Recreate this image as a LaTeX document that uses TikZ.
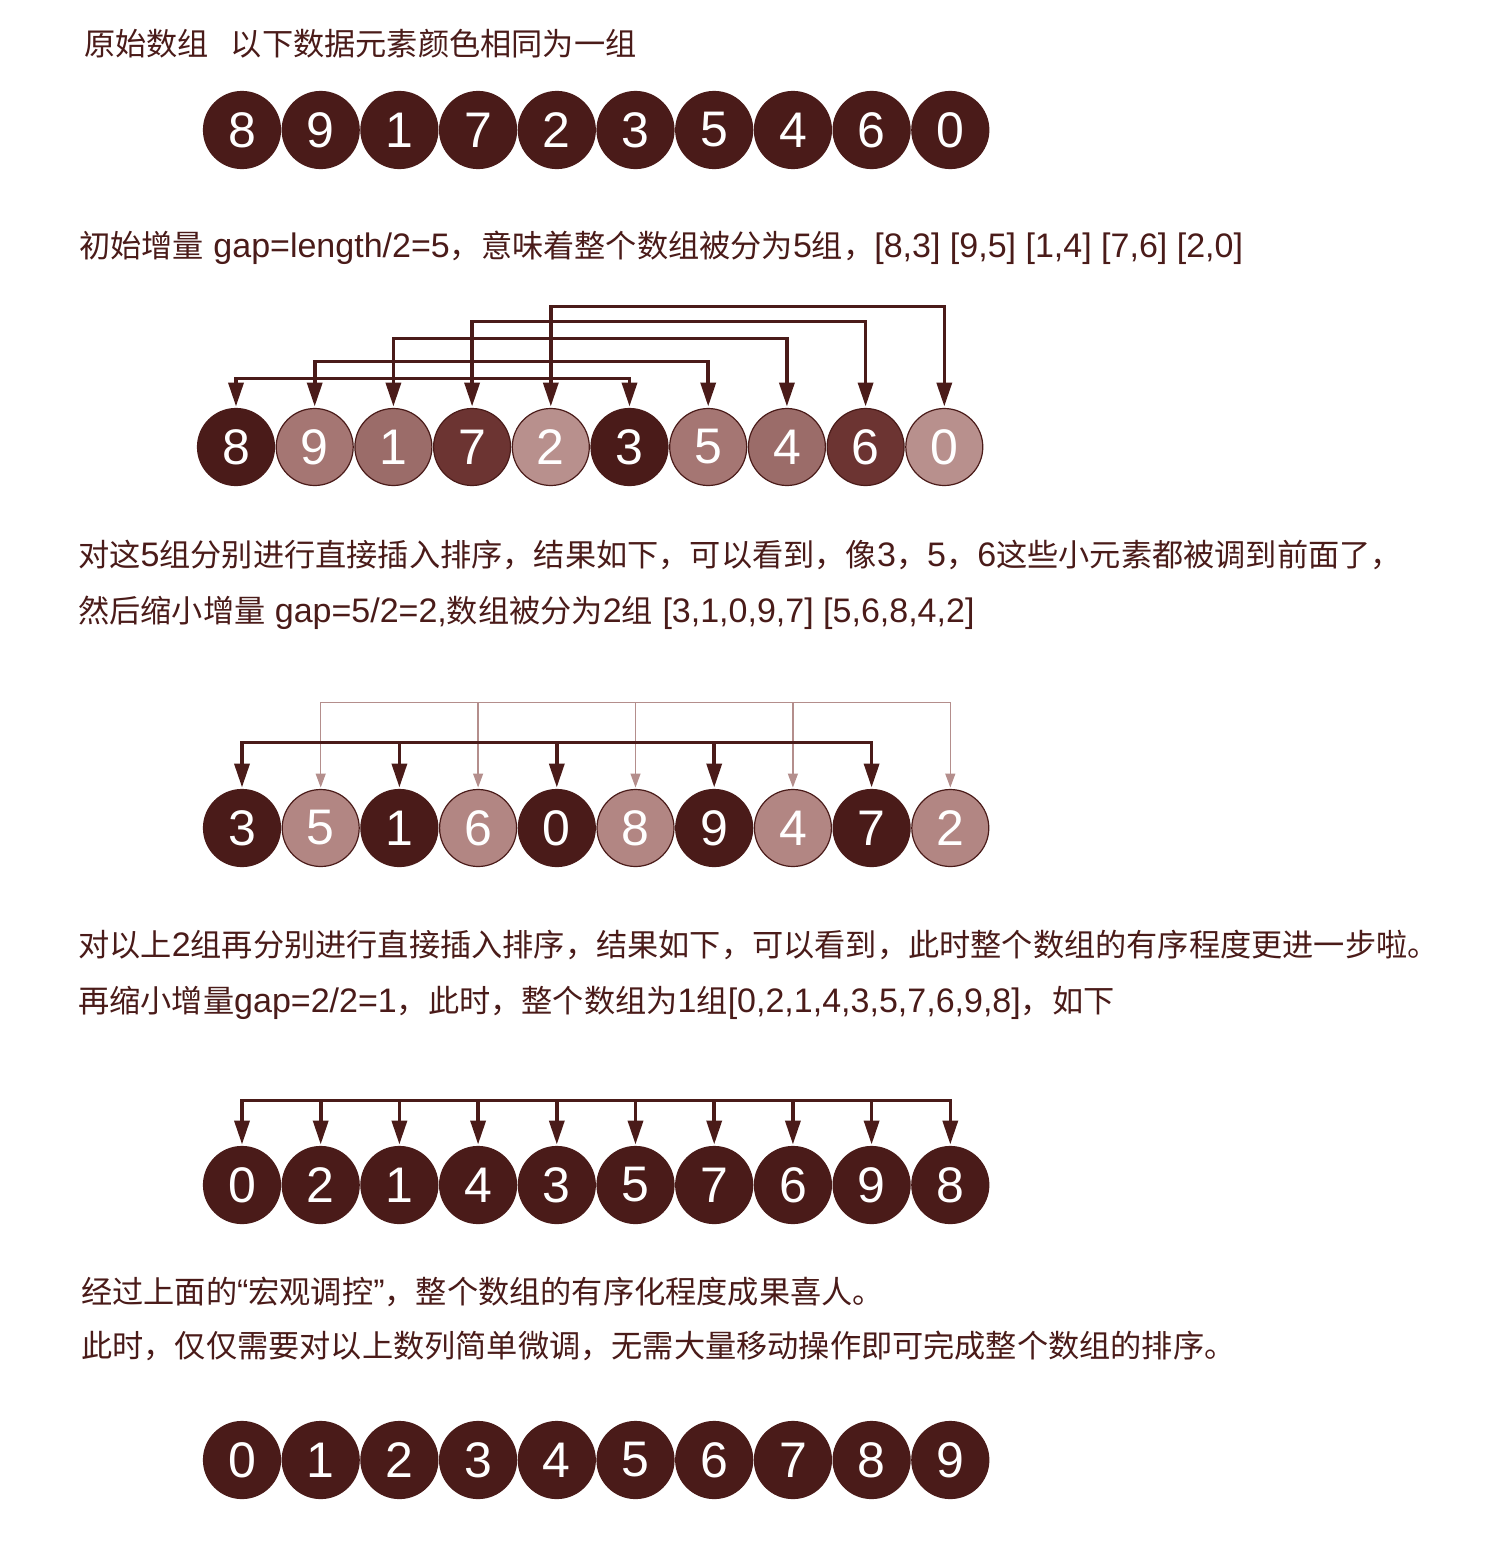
\documentclass[tikz,border=0pt]{standalone}
\usepackage{fontspec}
\setmainfont{Noto Sans CJK SC}
\newfontfamily\digitfont{Liberation Sans}
\newfontfamily\latinfont[Scale=1.09]{Liberation Sans}
\newcommand\lat[1]{{\latinfont #1}}
\usetikzlibrary{arrows.meta, positioning}

\definecolor{arraybrown}{RGB}{74,27,25}
\definecolor{grouptwo}{RGB}{165,118,115}
\definecolor{groupthree}{RGB}{155,108,105}
\definecolor{groupfour}{RGB}{108,52,50}
\definecolor{groupfive}{RGB}{184,144,141}
\definecolor{lightgroup}{RGB}{178,134,131}
\definecolor{lightline}{RGB}{180,142,140}

\begin{document}
\begin{tikzpicture}[
x=1pt, y=-1pt,
node distance=1.7pt,
elem/.style={circle, draw=arraybrown, fill=arraybrown, line width=1.2pt, minimum size=77pt, inner sep=0pt, outer sep=0pt, text=white, font=\digitfont\fontsize{50}{50}\selectfont},
caption/.style={anchor=base west, inner sep=0pt, text=arraybrown, font=\fontsize{31.2}{37}\selectfont},
line/.style={{Triangle[length=24pt, width=15pt]}-{Triangle[length=24pt, width=15pt]}, line width=3.6pt, draw=arraybrown},
tip/.style={-{Triangle[length=24pt, width=15pt]}, line width=3.6pt, draw=arraybrown},
thinline/.style={{Triangle[length=14pt, width=10pt]}-{Triangle[length=14pt, width=10pt]}, line width=1.3pt, draw=lightline},
thintip/.style={-{Triangle[length=14pt, width=10pt]}, line width=1.3pt, draw=lightline}
]
\fill[white] (0,0) rectangle (1494,1558);
\useasboundingbox (0,0) rectangle (1494,1558);

% original array
\node[caption] (title) at (84,55) {原始数组\hspace{22pt}以下数据元素颜色相同为一组};
\node[elem] (a0) at (242,130) {8};
\node[elem, right=of a0] (a1) {9};
\node[elem, right=of a1] (a2) {1};
\node[elem, right=of a2] (a3) {7};
\node[elem, right=of a3] (a4) {2};
\node[elem, right=of a4] (a5) {3};
\node[elem, right=of a5] (a6) {5};
\node[elem, right=of a6] (a7) {4};
\node[elem, right=of a7] (a8) {6};
\node[elem, right=of a8] (a9) {0};

% gap = 5
\node[caption] (step1) at (79,257) {初始增量\lat{ gap=length/2=5}，意味着整个数组被分为\lat{5}组，\lat{[8,3] [9,5] [1,4] [7,6] [2,0]}};
\node[elem] (b0) at (236,447) {8};
\node[elem, fill=grouptwo, right=of b0] (b1) {9};
\node[elem, fill=groupthree, right=of b1] (b2) {1};
\node[elem, fill=groupfour, right=of b2] (b3) {7};
\node[elem, fill=groupfive, right=of b3] (b4) {2};
\node[elem, right=of b4] (b5) {3};
\node[elem, fill=grouptwo, right=of b5] (b6) {5};
\node[elem, fill=groupthree, right=of b6] (b7) {4};
\node[elem, fill=groupfour, right=of b7] (b8) {6};
\node[elem, fill=groupfive, right=of b8] (b9) {0};

\draw[line] ([yshift=2pt]b0.north) |- ([yshift=30pt]b5.north) -- ([yshift=2pt]b5.north);
\draw[line] ([yshift=2pt]b1.north) |- ([yshift=47pt]b6.north) -- ([yshift=2pt]b6.north);
\draw[line] ([yshift=2pt]b2.north) |- ([yshift=70pt]b7.north) -- ([yshift=2pt]b7.north);
\draw[line] ([yshift=2pt]b3.north) |- ([yshift=87pt]b8.north) -- ([yshift=2pt]b8.north);
\draw[line] ([yshift=2pt]b4.north) |- ([yshift=102pt]b9.north) -- ([yshift=2pt]b9.north);

% gap = 2
\node[caption] (step2a) at (78,566) {对这\lat{5}组分别进行直接插入排序，结果如下，可以看到，像\lat{3}，\lat{5}，\lat{6}这些小元素都被调到前面了，};
\node[caption] (step2b) at (78,622) {然后缩小增量\lat{ gap=5/2=2,}数组被分为\lat{2}组\lat{ [3,1,0,9,7] [5,6,8,4,2]}};
\node[elem] (c0) at (242,828) {3};
\node[elem, fill=lightgroup, right=of c0] (c1) {5};
\node[elem, right=of c1] (c2) {1};
\node[elem, fill=lightgroup, right=of c2] (c3) {6};
\node[elem, right=of c3] (c4) {0};
\node[elem, fill=lightgroup, right=of c4] (c5) {8};
\node[elem, right=of c5] (c6) {9};
\node[elem, fill=lightgroup, right=of c6] (c7) {4};
\node[elem, right=of c7] (c8) {7};
\node[elem, fill=lightgroup, right=of c8] (c9) {2};

\draw[thinline] ([yshift=2pt]c1.north) |- ([yshift=87pt]c9.north) -- ([yshift=2pt]c9.north);
\draw[thintip] ([yshift=87pt]c3.north) -- ([yshift=2pt]c3.north);
\draw[thintip] ([yshift=87pt]c5.north) -- ([yshift=2pt]c5.north);
\draw[thintip] ([yshift=87pt]c7.north) -- ([yshift=2pt]c7.north);
\draw[line] ([yshift=2pt]c0.north) |- ([yshift=47pt]c8.north) -- ([yshift=2pt]c8.north);
\draw[tip] ([yshift=47pt]c2.north) -- ([yshift=2pt]c2.north);
\draw[tip] ([yshift=47pt]c4.north) -- ([yshift=2pt]c4.north);
\draw[tip] ([yshift=47pt]c6.north) -- ([yshift=2pt]c6.north);

% gap = 1
\node[caption] (step3a) at (78,956) {对以上\lat{2}组再分别进行直接插入排序，结果如下，可以看到，此时整个数组的有序程度更进一步啦。};
\node[caption] (step3b) at (78,1012) {再缩小增量\lat{gap=2/2=1}，此时，整个数组为\lat{1}组\lat{[0,2,1,4,3,5,7,6,9,8]}，如下};
\node[elem] (d0) at (242,1185) {0};
\node[elem, right=of d0] (d1) {2};
\node[elem, right=of d1] (d2) {1};
\node[elem, right=of d2] (d3) {4};
\node[elem, right=of d3] (d4) {3};
\node[elem, right=of d4] (d5) {5};
\node[elem, right=of d5] (d6) {7};
\node[elem, right=of d6] (d7) {6};
\node[elem, right=of d7] (d8) {9};
\node[elem, right=of d8] (d9) {8};

\draw[line] ([yshift=2pt]d0.north) |- ([yshift=46pt]d9.north) -- ([yshift=2pt]d9.north);
\draw[tip] ([yshift=46pt]d1.north) -- ([yshift=2pt]d1.north);
\draw[tip] ([yshift=46pt]d2.north) -- ([yshift=2pt]d2.north);
\draw[tip] ([yshift=46pt]d3.north) -- ([yshift=2pt]d3.north);
\draw[tip] ([yshift=46pt]d4.north) -- ([yshift=2pt]d4.north);
\draw[tip] ([yshift=46pt]d5.north) -- ([yshift=2pt]d5.north);
\draw[tip] ([yshift=46pt]d6.north) -- ([yshift=2pt]d6.north);
\draw[tip] ([yshift=46pt]d7.north) -- ([yshift=2pt]d7.north);
\draw[tip] ([yshift=46pt]d8.north) -- ([yshift=2pt]d8.north);

% sorted
\node[caption] (step4a) at (81,1303) {经过上面的\lat{“}宏观调控\lat{”}，整个数组的有序化程度成果喜人。};
\node[caption] (step4b) at (81,1357) {此时，仅仅需要对以上数列简单微调，无需大量移动操作即可完成整个数组的排序。};
\node[elem] (e0) at (242,1460) {0};
\node[elem, right=of e0] (e1) {1};
\node[elem, right=of e1] (e2) {2};
\node[elem, right=of e2] (e3) {3};
\node[elem, right=of e3] (e4) {4};
\node[elem, right=of e4] (e5) {5};
\node[elem, right=of e5] (e6) {6};
\node[elem, right=of e6] (e7) {7};
\node[elem, right=of e7] (e8) {8};
\node[elem, right=of e8] (e9) {9};
\end{tikzpicture}
\end{document}
